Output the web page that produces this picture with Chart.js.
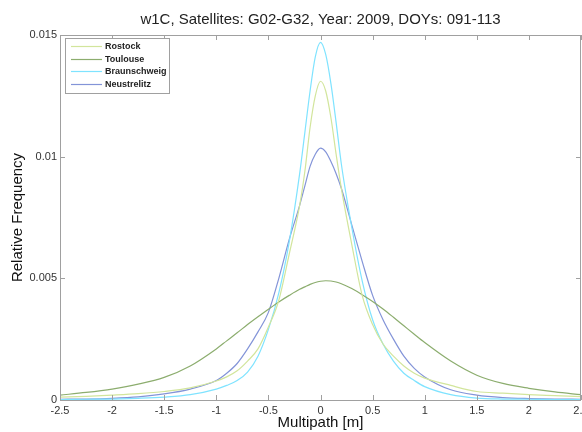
<!DOCTYPE html>
<html>
<head>
<meta charset="utf-8">
<script src="https://cdn.jsdelivr.net/npm/chart.js@4"></script>
<style>
  html, body { margin: 0; padding: 0; background: #fff; overflow: hidden; }
  #wrap { width: 600px; height: 432px; }
</style>
</head>
<body>
<div id="wrap"><canvas id="myChart" width="600" height="432"></canvas></div>
<script>
// multipath values [m]
var xs = [-2.5, -2.25, -2, -1.75, -1.5, -1.25, -1, -0.9, -0.8, -0.7, -0.6, -0.5, -0.4, -0.3, -0.2, -0.15, -0.1, -0.05,
          0, 0.05, 0.1, 0.15, 0.2, 0.3, 0.4, 0.5, 0.6, 0.7, 0.8, 0.9, 1, 1.25, 1.5, 1.75, 2, 2.25, 2.5];

var rostock = [0.00012, 0.00015, 0.0002, 0.00026, 0.00035, 0.0005, 0.00078, 0.00095, 0.0012, 0.0016, 0.0021, 0.0030, 0.0041, 0.0060, 0.0080, 0.0094, 0.0112, 0.0125,
               0.0131, 0.0127, 0.0116, 0.0101, 0.0087, 0.0064, 0.0043, 0.0031, 0.0023, 0.0018, 0.0014, 0.0011, 0.0009, 0.0006, 0.00035, 0.00028, 0.00022, 0.00018, 0.00014];

var toulouse = [0.0002, 0.00031, 0.00045, 0.00065, 0.00093, 0.0014, 0.0021, 0.00243, 0.00276, 0.0031, 0.00342, 0.00373, 0.00403, 0.0043, 0.00455, 0.00465, 0.00475, 0.00483,
                0.00488, 0.0049, 0.00489, 0.00485, 0.00478, 0.00458, 0.00433, 0.00405, 0.00374, 0.0034, 0.00305, 0.0027, 0.00236, 0.0016, 0.00102, 0.00068, 0.00048, 0.00033, 0.00022];

var braunschweig = [0.00002, 0.00003, 0.00004, 0.00007, 0.00012, 0.00022, 0.00045, 0.0006, 0.0008, 0.00115, 0.0018, 0.0029, 0.0044, 0.0065, 0.0093, 0.011, 0.0127, 0.0141,
                    0.0147, 0.0142, 0.013, 0.0114, 0.0097, 0.0071, 0.0049, 0.0033, 0.0023, 0.0016, 0.0011, 0.0008, 0.00055, 0.00022, 0.00008, 0.00004, 0.00003, 0.00002, 0.00002];

var neustrelitz = [0.00003, 0.00004, 0.00007, 0.00013, 0.00025, 0.00045, 0.0008, 0.0011, 0.0015, 0.0021, 0.0028, 0.0036, 0.005, 0.0066, 0.008, 0.0088, 0.0096, 0.0101,
                   0.01035, 0.0102, 0.0098, 0.0093, 0.0087, 0.0072, 0.0057, 0.0043, 0.0033, 0.0025, 0.0018, 0.0013, 0.00095, 0.00042, 0.0002, 0.0001, 0.00006, 0.00004, 0.00003];

var names = ['Rostock', 'Toulouse', 'Braunschweig', 'Neustrelitz'];
var colors = ['#d2e59c', '#8cad6e', '#7fe3ff', '#8394d8'];
var xTicks = [-2.5, -2, -1.5, -1, -0.5, 0, 0.5, 1, 1.5, 2, 2.5];
var yTicks = [0, 0.005, 0.01, 0.015];

var font = '"Liberation Sans", Arial, sans-serif';

function pts(ys) {
    var out = [];
    for (var i = 0; i < xs.length; i++) out.push({x: xs[i], y: ys[i]});
    return out;
}

var series = [rostock, toulouse, braunschweig, neustrelitz];
var datasets = [];
for (var i = 0; i < series.length; i++) {
    datasets.push({
        label: names[i],
        data: pts(series[i]),
        borderColor: colors[i],
        backgroundColor: colors[i],
        borderWidth: 1.2,
        pointRadius: 0,
        fill: false,
        cubicInterpolationMode: 'monotone'
    });
}

// box, inward ticks, legend inside the axes
var matlabBox = {
    id: 'matlabBox',
    afterDatasetsDraw: function (chart) {
        var ctx = chart.ctx, a = chart.chartArea;
        var sx = chart.scales.x, sy = chart.scales.y;
        ctx.save();
        ctx.strokeStyle = '#a0a0a0';
        ctx.lineWidth = 1;
        ctx.strokeRect(a.left + 0.5, a.top + 0.5, a.right - a.left - 1, a.bottom - a.top);
        ctx.beginPath();
        xTicks.forEach(function (v) {
            var px = Math.round(sx.getPixelForValue(v)) + 0.5;
            ctx.moveTo(px, a.bottom); ctx.lineTo(px, a.bottom - 5);
            ctx.moveTo(px, a.top); ctx.lineTo(px, a.top + 5);
        });
        yTicks.forEach(function (v) {
            var py = Math.round(sy.getPixelForValue(v)) + 0.5;
            ctx.moveTo(a.left, py); ctx.lineTo(a.left + 5, py);
            ctx.moveTo(a.right, py); ctx.lineTo(a.right - 5, py);
        });
        ctx.stroke();

        // legend
        var lx = a.left + 5, ly = a.top + 3, lw = 104, lh = 55;
        ctx.fillStyle = '#fff';
        ctx.fillRect(lx, ly, lw, lh);
        ctx.strokeStyle = '#a0a0a0';
        ctx.strokeRect(lx + 0.5, ly + 0.5, lw, lh);
        ctx.font = 'bold 9px ' + font;
        ctx.textBaseline = 'middle';
        chart.data.datasets.forEach(function (ds, k) {
            var ry = Math.round(ly + 8 + k * 12.5) + 0.5;
            ctx.strokeStyle = ds.borderColor;
            ctx.lineWidth = 1.2;
            ctx.beginPath();
            ctx.moveTo(lx + 6, ry); ctx.lineTo(lx + 37, ry);
            ctx.stroke();
            ctx.fillStyle = '#222';
            ctx.fillText(ds.label, lx + 40, ry);
        });
        ctx.restore();
    }
};

var ctx = document.getElementById('myChart');
var chart = new Chart(ctx, {
    type: 'line',
    data: { datasets: datasets },
    plugins: [matlabBox],
    options: {
        responsive: false,
        animation: false,
        layout: { padding: { left: 0, right: 19, top: 0, bottom: 0 } },
        plugins: {
            legend: { display: false },
            tooltip: { enabled: false },
            title: {
                display: true,
                fullSize: false,
                text: 'w1C, Satellites: G02-G32, Year: 2009, DOYs: 091-113',
                color: '#222',
                font: { family: font, size: 15, weight: 'normal', lineHeight: 1.2 },
                padding: { top: 11, bottom: 6 }
            }
        },
        scales: {
            x: {
                type: 'linear',
                min: -2.5,
                max: 2.5,
                afterBuildTicks: function (s) { s.ticks = xTicks.map(function (v) { return {value: v}; }); },
                afterFit: function (s) { s.height = 32; },
                grid: { display: false, drawTicks: false },
                border: { display: false },
                ticks: {
                    padding: 4,
                    maxRotation: 0,
                    color: '#333',
                    font: { family: font, size: 11 },
                    callback: function (v) { return String(+v.toFixed(2)); }
                },
                title: {
                    display: true,
                    text: 'Multipath [m]',
                    color: '#111',
                    font: { family: font, size: 15, lineHeight: 1.2 },
                    padding: { top: 0, bottom: 0 }
                }
            },
            y: {
                min: 0,
                max: 0.015,
                afterBuildTicks: function (s) { s.ticks = yTicks.map(function (v) { return {value: v}; }); },
                afterFit: function (s) { s.width = 60; },
                grid: { display: false, drawTicks: false },
                border: { display: false },
                ticks: {
                    padding: 3,
                    color: '#333',
                    font: { family: font, size: 11 },
                    callback: function (v) { return String(+v.toFixed(4)); }
                },
                title: {
                    display: true,
                    text: 'Relative Frequency',
                    color: '#111',
                    font: { family: font, size: 15, lineHeight: 1.2 },
                    padding: { top: 9, bottom: 0 }
                }
            }
        }
    }
});
</script>
</body>
</html>
